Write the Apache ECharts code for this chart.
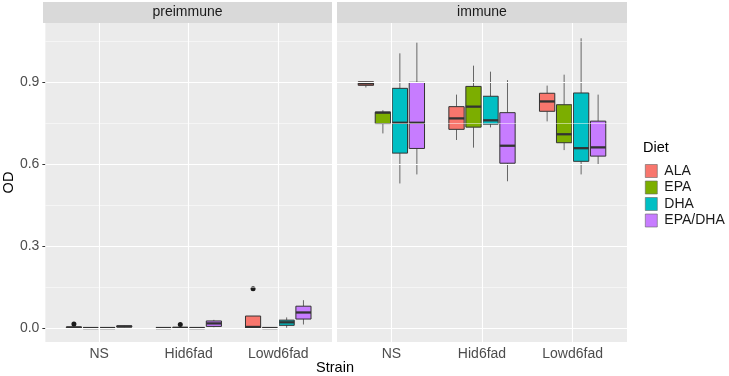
<!DOCTYPE html>
<html>
<head>
<meta charset="utf-8">
<script src="https://cdn.jsdelivr.net/npm/echarts@6/dist/echarts.min.js"></script>
<style>
  html, body { margin: 0; padding: 0; background: #fff; }
  #chart { width: 729px; height: 376px; }
</style>
</head>
<body>
<div id="chart"></div>
<script>
// categories
var strains = ['NS', 'Hid6fad', 'Lowd6fad'];
var diets = ['ALA', 'EPA', 'DHA', 'EPA/DHA'];
var dietColors = ['#F8766D', '#7CAE00', '#00BFC4', '#C77CFF'];
var yTicks = [0, 0.3, 0.6, 0.9];
var yMinorTicks = [0.15, 0.45, 0.75, 1.05];

// each row: [lower whisker, q1, median, q3, upper whisker] for NS, Hid6fad, Lowd6fad
var preALA = [[0, 0.001, 0.002, 0.004, 0.006], [0, 0, 0, 0, 0.001], [0, 0, 0.004, 0.044, 0.044]];
var preEPA = [[0, 0, 0, 0, 0], [0, 0.0005, 0.001, 0.002, 0.003], [0, 0, 0, 0, 0.001]];
var preDHA = [[0, 0, 0, 0, 0], [0, 0, 0, 0, 0], [0.001, 0.010, 0.021, 0.029, 0.039]];
var preEPADHA = [[0.003, 0.004, 0.006, 0.008, 0.009], [0.003, 0.006, 0.017, 0.026, 0.030], [0.013, 0.033, 0.057, 0.080, 0.102]];

var immALA = [[0.880, 0.888, 0.895, 0.901, 0.902], [0.688, 0.727, 0.767, 0.810, 0.854], [0.756, 0.793, 0.829, 0.859, 0.887]];
var immEPA = [[0.712, 0.748, 0.788, 0.790, 0.797], [0.660, 0.735, 0.810, 0.884, 0.960], [0.651, 0.678, 0.709, 0.817, 0.927]];
var immDHA = [[0.529, 0.640, 0.751, 0.877, 1.005], [0.734, 0.746, 0.760, 0.848, 0.938], [0.562, 0.610, 0.658, 0.860, 1.060]];
var immEPADHA = [[0.562, 0.657, 0.751, 0.899, 1.044], [0.537, 0.603, 0.667, 0.788, 0.907], [0.599, 0.629, 0.661, 0.757, 0.854]];

// outliers: [strain index, value]
var preOutALA = [[0, 0.015], [2, 0.144]];
var preOutEPA = [[1, 0.013]];
var preOutDHA = [];
var preOutEPADHA = [];

var preStats = [preALA, preEPA, preDHA, preEPADHA];
var immStats = [immALA, immEPA, immDHA, immEPADHA];
var preOuts = [preOutALA, preOutEPA, preOutDHA, preOutEPADHA];

var SLOT = 0.1875;     // dodge slot width
var BOX_W = 0.169;     // box width in axis units
var FONT = "'Liberation Sans', Arial, sans-serif";

function dodgeX(strainIdx, dietIdx) {
    return strainIdx + 1 + (dietIdx - 1.5) * SLOT;
}

function renderBox(params, api) {
    var x = api.value(0);
    var half = api.size([BOX_W, 0])[0] / 2;
    var pLo = api.coord([x, api.value(1)]);
    var pQ1 = api.coord([x, api.value(2)]);
    var pMed = api.coord([x, api.value(3)]);
    var pQ3 = api.coord([x, api.value(4)]);
    var pHi = api.coord([x, api.value(5)]);
    var color = api.visual('color');
    return {
        type: 'group',
        children: [
            { type: 'line', shape: { x1: pQ3[0], y1: pQ3[1], x2: pHi[0], y2: pHi[1] }, style: { stroke: '#666', lineWidth: 1 } },
            { type: 'line', shape: { x1: pQ1[0], y1: pQ1[1], x2: pLo[0], y2: pLo[1] }, style: { stroke: '#666', lineWidth: 1 } },
            { type: 'rect', shape: { x: pQ3[0] - half, y: pQ3[1], width: half * 2, height: Math.max(pQ1[1] - pQ3[1], 0) }, style: { fill: color, stroke: '#333', lineWidth: 1 } },
            { type: 'line', shape: { x1: pMed[0] - half, y1: pMed[1], x2: pMed[0] + half, y2: pMed[1] }, style: { stroke: '#333', lineWidth: 2.3 } }
        ]
    };
}

function gridLines(gi) {
    var data = [];
    yTicks.forEach(function (v) { data.push({ yAxis: v, lineStyle: { width: 1.1 } }); });
    yMinorTicks.forEach(function (v) { data.push({ yAxis: v, lineStyle: { width: 0.5 } }); });
    [1, 2, 3].forEach(function (v) { data.push({ xAxis: v, lineStyle: { width: 1.1 } }); });
    return {
        type: 'line',
        xAxisIndex: gi,
        yAxisIndex: gi,
        data: [],
        z: 0,
        silent: true,
        markLine: {
            silent: true,
            symbol: 'none',
            label: { show: false },
            lineStyle: { color: '#FFFFFF', type: 'solid' },
            animation: false,
            data: data
        }
    };
}

var series = [gridLines(0), gridLines(1)];
[preStats, immStats].forEach(function (stats, gi) {
    diets.forEach(function (d, di) {
        var data = stats[di].map(function (row, si) {
            return [dodgeX(si, di)].concat(row);
        });
        series.push({
            name: d,
            type: 'custom',
            xAxisIndex: gi,
            yAxisIndex: gi,
            z: 2,
            itemStyle: { color: dietColors[di] },
            renderItem: renderBox,
            encode: { x: 0, y: [1, 2, 3, 4, 5] },
            data: data
        });
    });
});
preOuts.forEach(function (outs, di) {
    if (!outs.length) return;
    series.push({
        type: 'scatter',
        xAxisIndex: 0,
        yAxisIndex: 0,
        z: 3,
        symbolSize: 5,
        itemStyle: { color: '#1A1A1A', opacity: 1 },
        data: outs.map(function (o) { return [dodgeX(o[0], di), o[1]]; })
    });
});

function makeX(gi) {
    return {
        type: 'value',
        gridIndex: gi,
        min: 0.4,
        max: 3.6,
        axisLine: { show: false },
        splitLine: { show: false },
        axisTick: { show: true, customValues: [1, 2, 3], length: 3, lineStyle: { color: '#333' } },
        axisLabel: {
            customValues: [1, 2, 3],
            margin: 5,
            fontFamily: FONT,
            fontSize: 14,
            color: '#4D4D4D',
            formatter: function (v) { return strains[Math.round(v) - 1]; }
        }
    };
}

function makeY(gi) {
    var showLab = gi === 0;
    return {
        type: 'value',
        gridIndex: gi,
        min: -0.051,
        max: 1.116,
        name: showLab ? 'OD' : '',
        nameLocation: 'middle',
        nameGap: 22,
        nameTextStyle: { fontFamily: FONT, fontSize: 14.5, color: '#000' },
        axisLine: { show: false },
        splitLine: { show: false },
        axisTick: { show: showLab, customValues: yTicks, length: 3, lineStyle: { color: '#333' } },
        axisLabel: {
            show: showLab,
            customValues: yTicks,
            margin: 6,
            fontFamily: FONT,
            fontSize: 14,
            color: '#4D4D4D',
            formatter: function (v) { return v.toFixed(1); }
        }
    };
}

var myChart = echarts.init(document.getElementById('chart'));
myChart.setOption({
    animation: false,
    grid: [
        { left: 43, right: 397, top: 23, bottom: 34, show: true, backgroundColor: '#EBEBEB', borderWidth: 0 },
        { left: 337, right: 102, top: 23, bottom: 34, show: true, backgroundColor: '#EBEBEB', borderWidth: 0 }
    ],
    xAxis: [makeX(0), makeX(1)],
    yAxis: [makeY(0), makeY(1)],
    legend: {
        orient: 'vertical',
        left: 645,
        top: 164,
        data: diets,
        icon: 'rect',
        itemWidth: 12,
        itemHeight: 13,
        itemGap: 2.5,
        padding: 0,
        itemStyle: { borderColor: '#666', borderWidth: 0.6 },
        textStyle: { fontFamily: FONT, fontSize: 14, color: '#1A1A1A', padding: [0, 0, 0, 2] }
    },
    graphic: [
        { type: 'rect', shape: { x: 43, y: 2, width: 289, height: 21 }, style: { fill: '#D9D9D9' } },
        { type: 'rect', shape: { x: 337, y: 2, width: 290, height: 21 }, style: { fill: '#D9D9D9' } },
        { type: 'text', x: 187.5, y: 12.5, style: { text: 'preimmune', fontFamily: FONT, fontSize: 14, fill: '#1A1A1A', textAlign: 'center', textVerticalAlign: 'middle' } },
        { type: 'text', x: 482, y: 12.5, style: { text: 'immune', fontFamily: FONT, fontSize: 14, fill: '#1A1A1A', textAlign: 'center', textVerticalAlign: 'middle' } },
        { type: 'text', x: 335, y: 368, style: { text: 'Strain', fontFamily: FONT, fontSize: 14.5, fill: '#000', textAlign: 'center', textVerticalAlign: 'middle' } },
        { type: 'text', x: 643, y: 148, style: { text: 'Diet', fontFamily: FONT, fontSize: 14.5, fill: '#000', textAlign: 'left', textVerticalAlign: 'middle' } }
    ],
    series: series
});
</script>
</body>
</html>
